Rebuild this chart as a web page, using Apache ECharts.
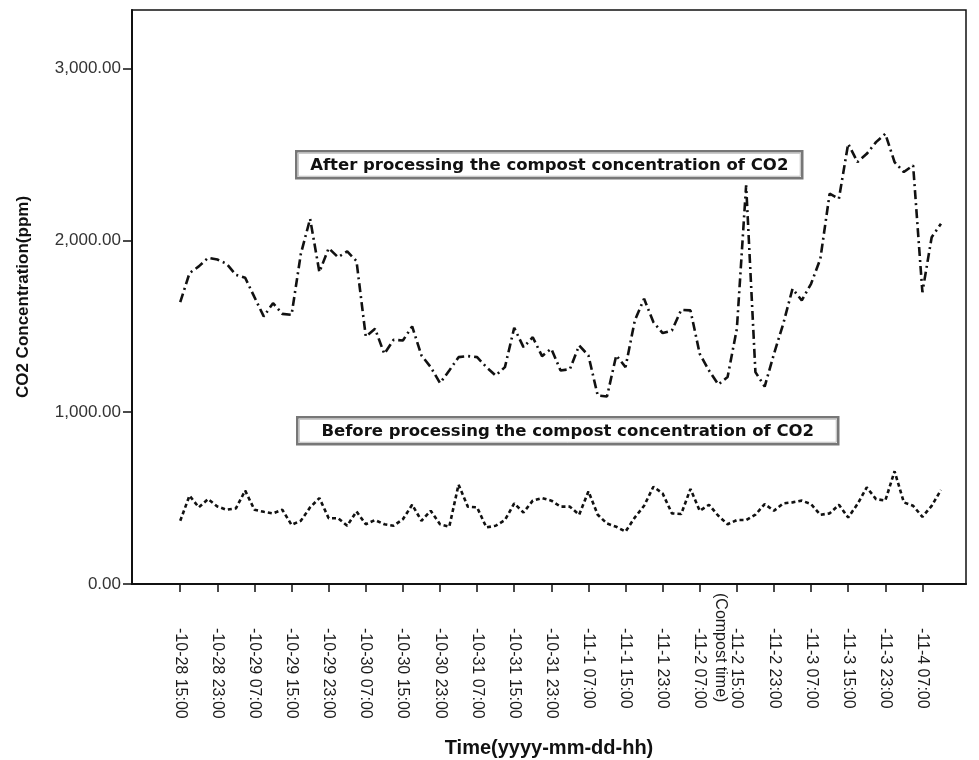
<!DOCTYPE html>
<html>
<head>
<meta charset="utf-8">
<script src="https://cdn.jsdelivr.net/npm/echarts@6/dist/echarts.min.js"></script>
<style>
html,body{margin:0;padding:0;background:#fff;}
#chart{width:979px;height:760px;}
</style>
</head>
<body>
<div id="chart"></div>
<script>
// Tick labels (every 8 hours = every 4th sample, samples are 2 hours apart)
const timeLabels = ['-10-28 15:00','-10-28 23:00','-10-29 07:00','-10-29 15:00','-10-29 23:00',
  '-10-30 07:00','-10-30 15:00','-10-30 23:00','-10-31 07:00','-10-31 15:00','-10-31 23:00',
  '-11-1 07:00','-11-1 15:00','-11-1 23:00','-11-2 07:00','-11-2 15:00','-11-2 23:00',
  '-11-3 07:00','-11-3 15:00','-11-3 23:00','-11-4 07:00'];
const tickStep = 4;
const compostIndex = 60;
const yTicks = [0, 1000, 2000, 3000];

// After processing the compost (ppm), 2-hour samples from 10-28 15:00
const afterCO2 = [1640,1809,1848,1898,1888,1863,1799,1782,1669,1557,
  1634,1572,1566,1921,2125,1815,1954,1902,1935,1879,
  1440,1485,1339,1421,1417,1499,1330,1262,1169,1242,
  1320,1326,1320,1262,1213,1262,1491,1378,1436,1326,
  1369,1242,1250,1388,1330,1097,1091,1330,1262,1533,
  1660,1524,1460,1475,1595,1592,1339,1242,1161,1204,
  1485,2320,1233,1149,1339,1514,1718,1650,1747,1892,
  2271,2242,2562,2455,2503,2571,2620,2455,2397,2436,
  1698,2018,2096];

// Before processing the compost (ppm)
const beforeCO2 = [368,514,446,494,451,432,440,543,432,420,
  411,432,344,368,446,500,383,383,339,422,
  348,372,348,339,377,461,368,426,348,333,
  578,450,446,329,339,372,469,416,485,500,
  485,450,450,403,539,403,352,333,305,387,
  455,566,527,411,407,553,426,461,397,348,
  372,372,403,465,426,469,475,485,465,403,
  411,461,387,465,562,494,485,656,475,455,
  391,455,547];

const tickValues = timeLabels.map((_, k) => k * tickStep);

const chart = echarts.init(document.getElementById('chart'));
const fontFamily = '"Liberation Sans", Arial, sans-serif';
const boxFont = '"DejaVu Sans", "Liberation Sans", sans-serif';

chart.setOption({
  animation: false,
  backgroundColor: '#fff',
  grid: {
    left: 132, top: 10, right: 13, bottom: 176,
    outerBoundsMode: 'none', containLabel: false,
    show: true, borderColor: '#111', borderWidth: 1.5, backgroundColor: 'transparent'
  },
  xAxis: {
    type: 'value',
    min: -5.2, max: 84.7,
    name: 'Time(yyyy-mm-dd-hh)',
    nameLocation: 'middle',
    nameGap: 154,
    nameTextStyle: {fontFamily, fontWeight: 'bold', fontSize: 20, color: '#111'},
    axisLine: {show: true, onZero: false, lineStyle: {color: '#111', width: 2}},
    axisTick: {show: true, inside: false, length: 8, customValues: tickValues, lineStyle: {color: '#111', width: 1.5}},
    axisLabel: {
      show: true, rotate: -90, margin: 44, customValues: tickValues,
      fontFamily, fontSize: 16, color: '#1a1a1a',
      formatter: v => timeLabels[Math.round(v / tickStep)] || ''
    },
    splitLine: {show: false}
  },
  yAxis: {
    type: 'value',
    min: 0, max: 3340,
    name: 'CO2 Concentration(ppm)',
    nameLocation: 'middle',
    nameGap: 100,
    nameTextStyle: {fontFamily, fontWeight: 'bold', fontSize: 17, color: '#111'},
    axisLine: {show: true, onZero: false, lineStyle: {color: '#111', width: 2}},
    axisTick: {show: true, inside: false, length: 9, customValues: yTicks, lineStyle: {color: '#111', width: 1.5}},
    axisLabel: {
      fontFamily, fontSize: 17, color: '#333', margin: 11, customValues: yTicks,
      formatter: v => v.toLocaleString('en-US', {minimumFractionDigits: 2, maximumFractionDigits: 2})
    },
    splitLine: {show: false}
  },
  series: [
    {
      name: 'After processing the compost concentration of CO2',
      type: 'line', symbol: 'none',
      data: afterCO2.map((v, i) => [i, v]),
      lineStyle: {color: '#111', width: 2.6, type: [9, 4, 2, 4]}
    },
    {
      name: 'Before processing the compost concentration of CO2',
      type: 'line', symbol: 'none',
      data: beforeCO2.map((v, i) => [i, v]),
      lineStyle: {color: '#111', width: 2.6, type: [4, 3]}
    }
  ]
});

function boxLabel(x, y, w, h, text) {
  return {
    type: 'group', left: x, top: y,
    children: [
      {type: 'rect', shape: {x: 0, y: 0, width: w, height: h},
        style: {fill: '#fff', stroke: '#777', lineWidth: 2.5}},
      {type: 'rect', shape: {x: 2, y: 2, width: w - 4, height: h - 4},
        style: {fill: 'none', stroke: '#bbb', lineWidth: 1}},
      {type: 'text', x: w / 2, y: h / 2 + 1,
        style: {text, fontFamily: boxFont, fontWeight: 'bold', fontSize: 16.5, fill: '#111',
          align: 'center', verticalAlign: 'middle'}}
    ]
  };
}

const cp = chart.convertToPixel({gridIndex: 0}, [compostIndex, 0]);
chart.setOption({
  graphic: [
    boxLabel(295, 150, 506, 27, 'After processing the compost concentration of CO2'),
    boxLabel(296, 416, 541, 27, 'Before processing the compost concentration of CO2'),
    {
      type: 'text', x: cp[0] - 16, y: 593, rotation: -Math.PI / 2,
      style: {text: '(Compost time)', fontFamily, fontSize: 16, fill: '#1a1a1a',
        align: 'left', verticalAlign: 'middle'}
    }
  ]
});
</script>
</body>
</html>
